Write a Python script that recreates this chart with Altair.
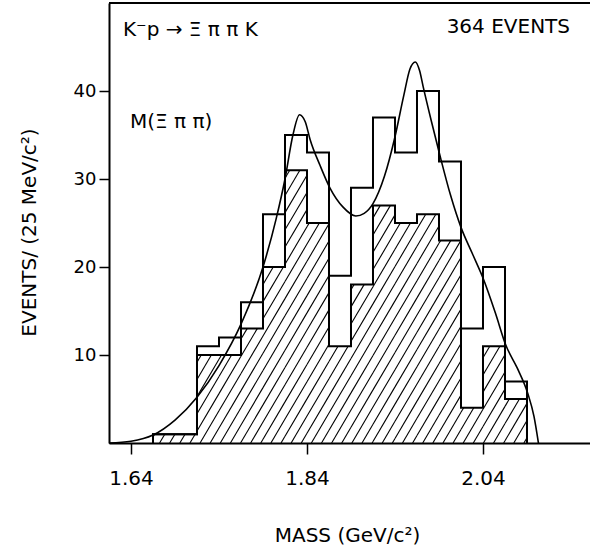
import altair as alt
import numpy as np
import pandas as pd

# ---------------- data ----------------
bin_left = [1.665, 1.69, 1.715, 1.74, 1.765, 1.79, 1.815, 1.84, 1.865,
            1.89, 1.915, 1.94, 1.965, 1.99, 2.015, 2.04, 2.065]
bin_width = 0.025
total_counts = [1, 1, 11, 12, 16, 26, 35, 33, 19, 29, 37, 33, 40, 32, 13, 20, 7]
shaded_counts = [1, 1, 10, 10, 13, 20, 31, 25, 11, 18, 27, 25, 26, 23, 4, 11, 5]

fit_x = [1.615, 1.64, 1.665, 1.69, 1.715, 1.74, 1.765, 1.79, 1.805, 1.815,
         1.824, 1.8315, 1.838, 1.8435, 1.855, 1.866, 1.881, 1.8955, 1.905,
         1.915, 1.928, 1.94, 1.95, 1.957, 1.963, 1.968, 1.972, 1.9815,
         1.9915, 2.003, 2.015, 2.028, 2.041, 2.054, 2.066, 2.079, 2.091,
         2.098, 2.103]
fit_y = [0.0, 0.2, 0.9, 2.6, 5.2, 8.8, 13.5, 20.0, 25.5, 30.0,
         35.0, 37.3, 36.5, 34.5, 31.5, 29.0, 26.8, 25.8, 26.1,
         27.2, 30.3, 34.8, 39.5, 42.5, 43.3, 42.3, 40.5, 36.5,
         32.5, 28.2, 24.5, 21.5, 18.5, 14.8, 11.1, 8.5, 5.6,
         3.0, 0.0]

x_ticks = [1.64, 1.84, 2.04]
y_ticks = [10, 20, 30, 40]

title_text = "K⁻p → Ξ π π K"
events_text = "364 EVENTS"
channel_text = "M(Ξ π π)"
x_title = "MASS  (GeV/c²)"
y_title = "EVENTS/ (25 MeV/c²)"

# ---------------- layout / style ----------------
W, H = 481, 440
XDOM = [1.615, 2.1616]
YDOM = [0, 50]
FONT = "DejaVu Sans"
HATCH_SLOPE = 170.0     # counts per GeV (steep diagonal)
HATCH_STEP = 0.0115     # GeV between hatch lines

xscale = alt.Scale(domain=XDOM, nice=False, zero=False)
yscale = alt.Scale(domain=YDOM, nice=False, zero=True)

xaxis = alt.Axis(values=x_ticks, format=".2f", title=x_title, grid=False,
                 labelFont=FONT, labelFontSize=20, labelColor="black",
                 labelPadding=14, labelFlush=False,
                 tickSize=11, tickWidth=1.5, tickColor="black",
                 domainColor="black", domainWidth=2,
                 titleFont=FONT, titleFontSize=20, titleFontWeight="normal",
                 titleColor="black", titleX=238, titleY=92,
                 titleAlign="center", titleBaseline="middle")
yaxis = alt.Axis(values=y_ticks, format="d", title=y_title, grid=False,
                 labelFont=FONT, labelFontSize=18, labelColor="black",
                 labelPadding=3,
                 tickSize=10, tickWidth=1.5, tickColor="black",
                 domainColor="black", domainWidth=2,
                 titleFont=FONT, titleFontSize=20, titleFontWeight="normal",
                 titleColor="black", titleX=-80, titleY=229, titleAngle=270,
                 titleAlign="center", titleBaseline="middle")


def step_table(h):
    xs = [bin_left[0]] + list(bin_left) + [bin_left[-1] + bin_width]
    ys = [0] + list(h) + [0]
    return pd.DataFrame({"x": xs, "y": ys, "i": list(range(len(xs)))})


# hatch segments for shaded histogram
segs = []
for c in np.arange(1.50, 2.12, HATCH_STEP):
    for xl, h in zip(bin_left, shaded_counts):
        xr = xl + bin_width
        xa = max(xl, c)
        xb = min(xr, c + h / HATCH_SLOPE)
        if xb > xa:
            segs.append({"x1": xa, "y1": HATCH_SLOPE * (xa - c),
                         "x2": xb, "y2": HATCH_SLOPE * (xb - c)})
hatch_df = pd.DataFrame(segs)

hatch = alt.Chart(hatch_df).mark_rule(color="black", strokeWidth=1.1).encode(
    x=alt.X("x1:Q", scale=xscale, axis=xaxis),
    x2="x2:Q",
    y=alt.Y("y1:Q", scale=yscale, axis=yaxis),
    y2="y2:Q",
)

total_line = alt.Chart(step_table(total_counts)).mark_line(
    color="black", strokeWidth=2, interpolate="step-after").encode(
    x=alt.X("x:Q", scale=xscale, axis=xaxis),
    y=alt.Y("y:Q", scale=yscale, axis=yaxis),
    order="i:Q",
)

shaded_line = alt.Chart(step_table(shaded_counts)).mark_line(
    color="black", strokeWidth=2, interpolate="step-after").encode(
    x=alt.X("x:Q", scale=xscale, axis=xaxis),
    y=alt.Y("y:Q", scale=yscale, axis=yaxis),
    order="i:Q",
)

fit = alt.Chart(pd.DataFrame({"x": fit_x, "y": fit_y})).mark_line(
    color="black", strokeWidth=1.6, interpolate="monotone").encode(
    x=alt.X("x:Q", scale=xscale, axis=xaxis),
    y=alt.Y("y:Q", scale=yscale, axis=yaxis),
)

one = pd.DataFrame({"a": [0]})
top_rule = alt.Chart(one).mark_rule(color="black", strokeWidth=2).encode(
    x=alt.value(0), x2=alt.value(W), y=alt.value(0))

txt1 = alt.Chart(one).mark_text(font=FONT, fontSize=20, color="black",
                                align="left", baseline="alphabetic").encode(
    x=alt.value(14), y=alt.value(33), text=alt.value(title_text))
txt2 = alt.Chart(one).mark_text(font=FONT, fontSize=20, color="black",
                                align="right", baseline="alphabetic").encode(
    x=alt.value(461), y=alt.value(30), text=alt.value(events_text))
txt3 = alt.Chart(one).mark_text(font=FONT, fontSize=20, color="black",
                                align="left", baseline="alphabetic").encode(
    x=alt.value(21), y=alt.value(125), text=alt.value(channel_text))

chart = alt.layer(hatch, total_line, shaded_line, fit, top_rule,
                  txt1, txt2, txt3).properties(
    width=W, height=H,
    padding={"left": 109, "top": 3, "right": 0, "bottom": 107},
    autosize=alt.AutoSizeParams(type="none"),
    background="white",
).configure_view(strokeWidth=0)

chart.save("out.html", embed_options={"renderer": "svg", "actions": False})
